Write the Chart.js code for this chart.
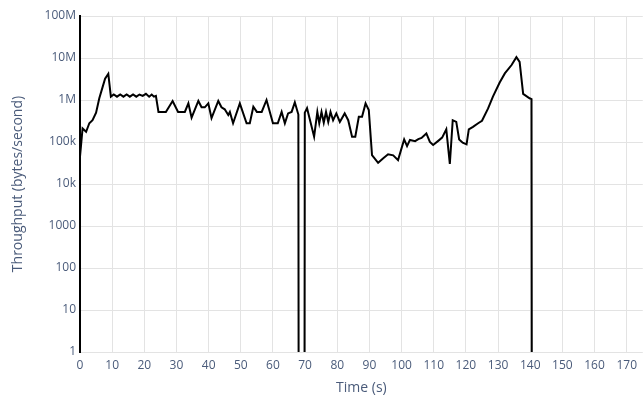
<!DOCTYPE html>
<html>
<head>
<meta charset="utf-8">
<script src="https://cdn.jsdelivr.net/npm/chart.js@4.4.0/dist/chart.umd.min.js"></script>
<style>
  html, body { margin: 0; padding: 0; background: #ffffff; }
  #wrap { width: 643px; height: 399px; position: relative; }
</style>
</head>
<body>
<div id="wrap"><canvas id="chart"></canvas></div>
<script>
// Sample times (s) and measured throughput (bytes/second)
const times = [
  0, 0.8, 1.9, 2.9, 3.9, 5.0, 6.0, 7.0, 7.8, 8.8,
  9.6, 10.5, 11.5, 12.5, 13.5, 14.5, 15.5, 16.5, 17.5, 18.5,
  19.5, 20.5, 21.5, 22.3, 23.0, 23.6, 24.4, 26.7, 28.8, 30.5,
  32.6, 33.7, 34.7, 36.8, 37.8, 38.8, 39.9, 40.9, 43.0, 44.0,
  45.0, 46.1, 46.6, 47.6, 49.7, 51.8, 52.8, 53.9, 55.0, 56.5,
  58.0, 60.0, 61.5, 62.7, 63.7, 64.7, 65.8, 66.8, 67.9, 68.9,
  69.9, 70.6, 72.8, 73.8, 74.4, 75.1, 75.8, 76.5, 77.2, 77.9,
  78.7, 79.7, 80.8, 82.3, 83.4, 84.6, 85.6, 86.7, 87.7, 88.8,
  89.8, 90.8, 92.7, 94.3, 95.8, 97.4, 98.9, 100.8, 101.7, 102.6,
  104.2, 105.2, 106.2, 107.7, 108.8, 109.8, 111.3, 112.6, 113.9, 115.0,
  115.9, 117.0, 117.9, 119.0, 120.2, 120.9, 122.2, 123.8, 125.0, 126.9,
  128.4, 130.5, 132.1, 134.2, 135.7, 136.7, 137.8, 139.8, 140.4, 141.4
];
const throughput = [
  45000, 210000, 175000, 280000, 330000, 500000, 1100000, 2000000, 3200000, 4200000,
  1200000, 1350000, 1200000, 1350000, 1200000, 1350000, 1200000, 1350000, 1200000, 1350000,
  1250000, 1400000, 1200000, 1350000, 1200000, 1250000, 520000, 520000, 950000, 520000,
  520000, 830000, 380000, 950000, 670000, 670000, 830000, 370000, 950000, 670000,
  600000, 440000, 520000, 280000, 830000, 280000, 280000, 690000, 520000, 520000,
  1000000, 280000, 280000, 520000, 280000, 480000, 520000, 880000, 450000, 0,
  500000, 640000, 134000, 520000, 280000, 520000, 290000, 520000, 300000, 520000,
  330000, 480000, 300000, 480000, 330000, 134000, 134000, 400000, 400000, 830000,
  580000, 49000, 32000, 41000, 51000, 48000, 37000, 115000, 80000, 112000,
  105000, 117000, 125000, 160000, 100000, 85000, 105000, 127000, 200000, 30000,
  330000, 300000, 115000, 96000, 88000, 200000, 230000, 280000, 320000, 630000,
  1200000, 2600000, 4300000, 6800000, 10500000, 8100000, 1400000, 1100000, 1050000, 0
];

// Axis ticks
const xTickValues = [0, 10, 20, 30, 40, 50, 60, 70, 80, 90, 100, 110, 120, 130, 140, 150, 160, 170];
const yTickValues = [1, 10, 100, 1000, 1e4, 1e5, 1e6, 1e7, 1e8];
const yTickLabels = ['1', '10', '100', '1000', '10k', '100k', '1M', '10M', '100M'];

// A log axis has no place for zero: park zero readings far below the axis
// so the trace plunges straight off the bottom of the plot.
const ZERO_FLOOR = 1e-70;
const points = times.map((t, i) => ({ x: t, y: throughput[i] > 0 ? throughput[i] : ZERO_FLOOR }));

const labelColor = '#4a5b7a';
const gridColor = '#e3e3e3';
const fontFamily = '"Open Sans", "DejaVu Sans", sans-serif';

new Chart(document.getElementById('chart'), {
  type: 'line',
  data: {
    datasets: [{
      data: points,
      borderColor: '#000000',
      borderWidth: 2,
      pointRadius: 0,
      tension: 0,
      fill: false
    }]
  },
  options: {
    animation: false,
    responsive: true,
    maintainAspectRatio: false,
    devicePixelRatio: 1,
    layout: { padding: { top: 16, right: 0, bottom: 0, left: 0 } },
    plugins: { legend: { display: false }, tooltip: { enabled: false } },
    scales: {
      x: {
        type: 'linear',
        min: 0,
        max: 175,
        afterBuildTicks: (s) => { s.ticks = xTickValues.map(v => ({ value: v })); },
        afterFit: (s) => { s.height = 47; },
        grid: { color: gridColor, lineWidth: 1, drawTicks: false },
        border: { display: false },
        ticks: {
          padding: 6,
          color: labelColor,
          maxRotation: 0,
          autoSkip: false,
          font: { family: fontFamily, size: 12 }
        },
        title: {
          display: true,
          text: 'Time (s)',
          color: labelColor,
          font: { family: fontFamily, size: 14 },
          padding: { top: 0, bottom: 3 }
        }
      },
      y: {
        type: 'logarithmic',
        min: 1,
        max: 1e8,
        afterBuildTicks: (s) => { s.ticks = yTickValues.map(v => ({ value: v })); },
        afterFit: (s) => { s.width = 80; },
        grid: { color: gridColor, lineWidth: 1, drawTicks: false },
        border: { display: true, color: '#000000', width: 2 },
        ticks: {
          padding: 4,
          color: labelColor,
          autoSkip: false,
          font: { family: fontFamily, size: 12 },
          callback: (value) => {
            const i = yTickValues.indexOf(value);
            return i >= 0 ? yTickLabels[i] : '';
          }
        },
        title: {
          display: true,
          text: 'Throughput (bytes/second)',
          color: labelColor,
          font: { family: fontFamily, size: 14 },
          padding: { top: 10, bottom: 0 }
        }
      }
    }
  }
});
</script>
</body>
</html>
